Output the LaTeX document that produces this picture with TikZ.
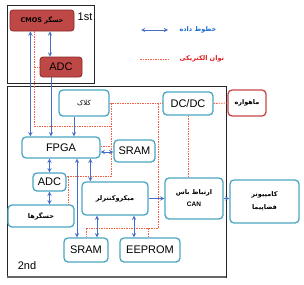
\documentclass[tikz,border=0pt]{standalone}
\usepackage{fontspec}
\setmainfont{Liberation Sans}
\newfontfamily\farsi[Script=Arabic]{DejaVu Sans}
\TeXXeTstate=1
\usetikzlibrary{positioning,calc,arrows}
\definecolor{boxteal}{RGB}{75,165,195}
\definecolor{sensred}{RGB}{190,72,70}
\definecolor{sensdark}{RGB}{140,40,40}
\definecolor{satred}{RGB}{200,70,70}
\definecolor{datablue}{RGB}{70,110,200}
\definecolor{powerred}{RGB}{245,95,70}
\definecolor{legblue}{RGB}{30,110,210}
\definecolor{legred}{RGB}{220,30,30}

\begin{document}
\begin{tikzpicture}[x=1pt, y=-1pt,
    unit/.style={rectangle, draw=boxteal, line width=1.3pt, rounded corners=4pt, fill=white, inner sep=0pt, align=center, font=\fontsize{11}{12}\selectfont},
    sensor/.style={rectangle, draw=sensdark, fill=sensred, text=black, line width=0.8pt, rounded corners=3pt, inner sep=0pt, align=center, font=\fontsize{11}{12}\selectfont},
    frame/.style={draw=black!85, line width=1pt},
    data/.style={<->, >=stealth, draw=datablue, line width=0.9pt},
    power/.style={draw=powerred, dash pattern=on 1.5pt off 1pt, line width=0.8pt},
    fa/.style={font=\farsi\bfseries\fontsize{6.5}{10}\selectfont}
]
    \useasboundingbox (0,0) rectangle (304,284);

    % Stage frames
    \draw[frame] (7,5) rectangle (94,83);
    \draw[frame] (7,86) rectangle (226,277);
    \draw[draw=black!60, line width=1.6pt] (7,277) -- (226,277);
    \node[font=\fontsize{11}{12}\selectfont] (lblFirst) at (85,17) {1st};
    \node[font=\fontsize{11}{12}\selectfont] (lblSecond) at (27,266) {2nd};

    % First stage
    \node[sensor, minimum width=64, minimum height=21, fa, text=black] (cmos) at (42,20.5) {\beginR حسگر \beginL CMOS\endL\endR};
    \node[sensor, minimum width=42, minimum height=20] (adcA) at (61,67) {ADC};

    % Second stage
    \node[unit, minimum width=50, minimum height=26, font=\farsi\fontsize{7}{10}\selectfont] (clock) at (84,103) {\beginR کلاک\endR};
    \node[unit, minimum width=50, minimum height=23] (dcdc) at (188,103.5) {DC/DC};
    \node[unit, draw=satred, minimum width=38, minimum height=26, fa] (sat) at (247,103) {\beginR ماهواره\endR};
    \node[unit, minimum width=78, minimum height=21] (fpga) at (61,147.5) {FPGA};
    \node[unit, minimum width=41, minimum height=22] (sramA) at (134.5,151) {SRAM};
    \node[unit, minimum width=33, minimum height=18] (adcB) at (49.5,182) {ADC};
    \node[unit, minimum width=66, minimum height=22, fa] (sensors) at (41,216) {\beginR حسگرها\endR};
    \node[unit, minimum width=66, minimum height=33, fa] (micro) at (115,198.5) {\beginR میکروکنترلر\endR};
    \node[unit, minimum width=58, minimum height=41, fa] (can) at (194,198.5) {\beginR ارتباط باس\endR\\[2pt]{\fontspec{Liberation Sans}\bfseries CAN}};
    \node[unit, minimum width=69, minimum height=43, fa] (pc) at (264.5,201.5) {\beginR کامپیوتر\endR\\[3pt]\beginR فضاپیما\endR};
    \node[unit, minimum width=44, minimum height=24] (sramB) at (86,250) {SRAM};
    \node[unit, minimum width=60, minimum height=24] (eeprom) at (150,250) {EEPROM};

    % Legend
    \node[fa, text=legblue, anchor=west] (lgData) at (176,30) {\beginR خطوط داده\endR};
    \node[fa, text=legred, anchor=west] (lgPower) at (176,59) {\beginR توان الکتریکی\endR};
    \coordinate (lgDataEnd) at (141,30);
    \coordinate (lgPowerEnd) at (140,59);
    \draw[data] (lgDataEnd) -- ([xshift=-8pt]lgData.west);
    \draw[power] (lgPowerEnd) -- ([xshift=-6pt]lgPower.west);

    % Power lines
    \coordinate (pwrA) at (111,103);
    \coordinate (pbus) at (0,228);
    \draw[power] (clock.east) -- (clock.east -| dcdc.west);
    \draw[power] (dcdc.east) -- (sat.west);
    \draw[power] (dcdc.south) -- (dcdc.south |- can.north);
    \draw[power] (pwrA) |- ([yshift=6pt]adcB.east);
    \draw[power] ([yshift=6pt]adcB.east) -| ([xshift=-6pt]sensors.north east);
    \draw[power] ([yshift=1.5pt]fpga.east) -- ([yshift=1.5pt]fpga.east -| sramA.west);
    \draw[power] ([xshift=-8pt]cmos.south) |- ([yshift=-23pt]pwrA);
    \draw[power] ([xshift=-8pt]cmos.south |- adcA.west) -- (adcA.west);
    \draw[power] ([xshift=-4pt]dcdc.west) |- (sramB.north |- pbus) -- (sramB.north);
    \draw[power] ([xshift=-2pt]eeprom.north |- pbus) -- ([xshift=-2pt]eeprom.north);

    % Data lines
    \draw[data] ([xshift=-11pt]adcA.north) -- ([xshift=-11pt]adcA.north |- cmos.south);
    \draw[data] ([xshift=9pt]fpga.north west) -- ([xshift=9pt]fpga.north west |- cmos.south);
    \draw[data, -> ] ([xshift=-10pt]adcA.south) -- ([xshift=-10pt]adcA.south |- fpga.north);
    \draw[data, -> ] ([xshift=-10pt]clock.south) -- ([xshift=-10pt]clock.south |- fpga.north);
    \draw[data] ([yshift=-4.5pt]fpga.east) -- ([yshift=-4.5pt]fpga.east -| sramA.west);
    \draw[data] (adcB.north) -- (adcB.north |- fpga.south);
    \draw[data] (adcB.south) -- (adcB.south |- sensors.north);
    \draw[data] ([xshift=9pt]micro.north west) -- ([xshift=9pt]micro.north west |- fpga.south);
    \draw[data] ([xshift=-9pt]sramB.north) -- ([xshift=-9pt]sramB.north |- fpga.south);
    \draw[data] ([xshift=11pt]sramB.north) -- ([xshift=11pt]sramB.north |- micro.south);
    \draw[data] ([xshift=-16pt]eeprom.north) -- ([xshift=-16pt]eeprom.north |- micro.south);
    \draw[data, -> ] (micro.east) -- (micro.east -| can.west);
    \draw[data, -> ] (can.east) -- (can.east -| pc.west);
\end{tikzpicture}
\end{document}
